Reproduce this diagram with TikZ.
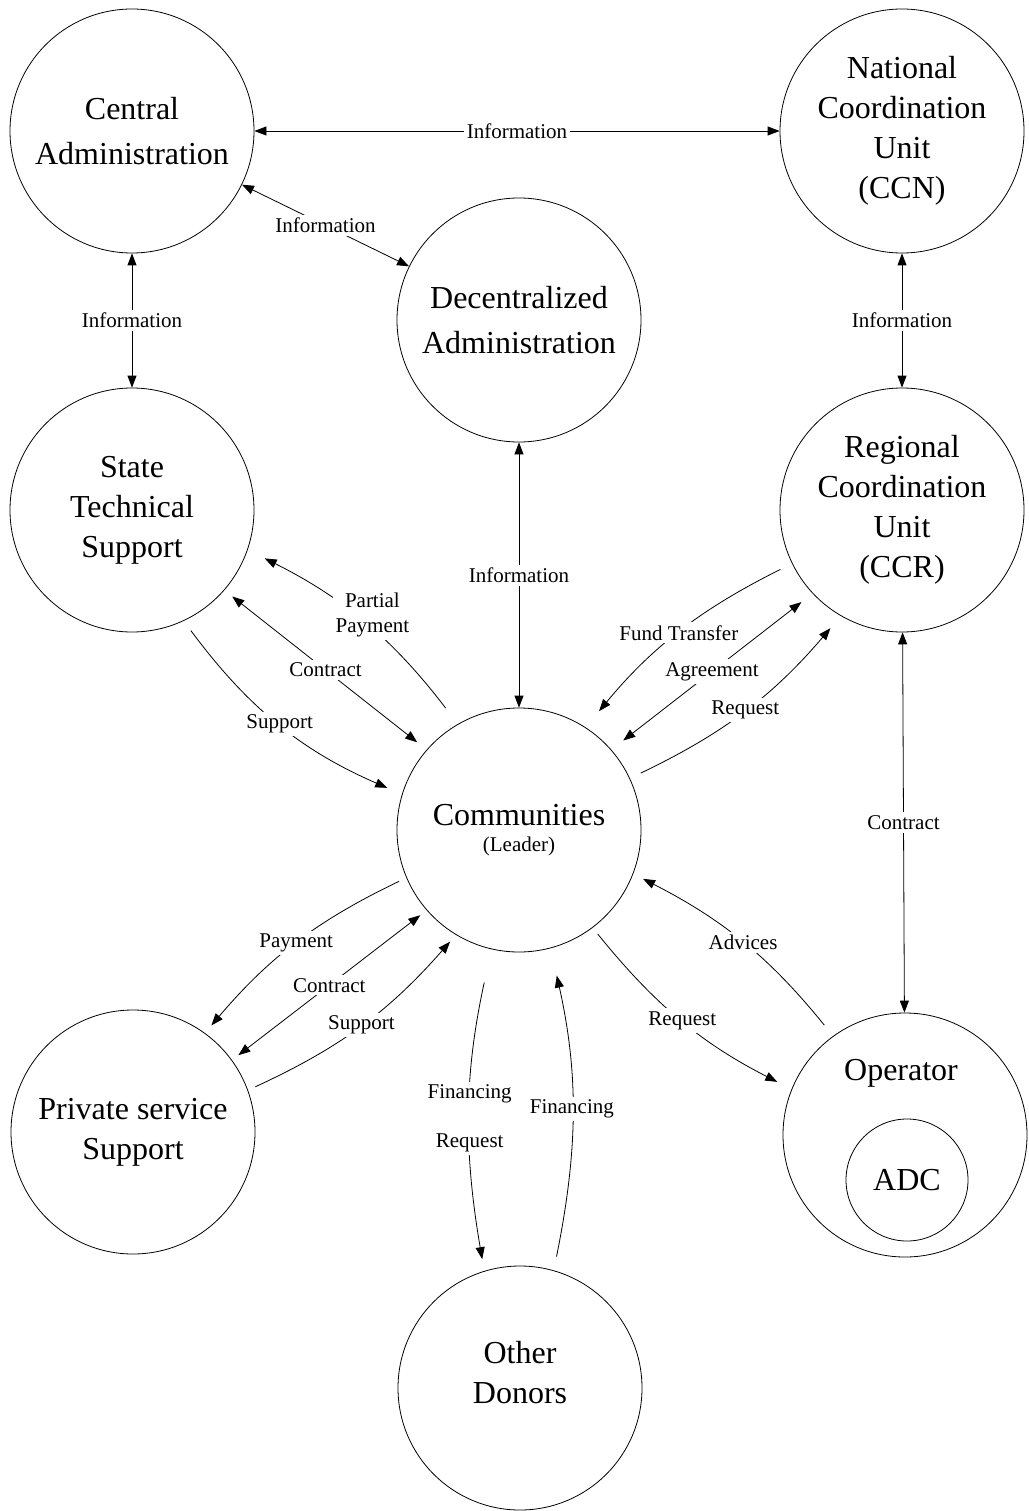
\documentclass[tikz,border=0pt]{standalone}
\usepackage{fontspec}
\setmainfont{Liberation Serif}
\usepackage{tikz}
\usetikzlibrary{shapes,arrows.meta,positioning,calc}

\tikzset{
  party/.style={circle, draw, line width=0.8pt, minimum size=244pt, inner sep=0pt,
    align=center, font=\fontsize{32}{40}\selectfont},
  tag/.style={fill=white, inner sep=3pt, align=center, font=\fontsize{21}{25}\selectfont},
  link/.style={line width=0.8pt, >={Triangle[length=12pt,width=9pt]}}
}

\begin{document}
\begin{tikzpicture}[x=1pt,y=1pt]
  \useasboundingbox (0,0) rectangle (1028,-1511);
  \node[party] (ca) at (132,-131) {Central\\[5pt]Administration};
  \node[party] (ccn) at (902,-131) {National\\Coordination\\Unit\\(CCN)};
  \node[party] (da) at (519,-320) {Decentralized\\[5pt]Administration};
  \node[party] (sts) at (132,-510) {State\\Technical\\Support};
  \node[party] (ccr) at (902,-510) {Regional\\Coordination\\Unit\\(CCR)};
  \node[party] (com) at (519,-830) {Communities\\[-14pt]{\fontsize{21}{25}\selectfont (Leader)}};
  \node[party] (pss) at (133,-1132) {Private service\\Support};
  \node[party] (op) at (905,-1135) {};
  \node[font=\fontsize{32}{40}\selectfont] (optext) at (901,-1073) {Operator};
  \node[party, minimum size=122pt] (adc) at (907,-1180) {ADC};
  \node[party] (don) at (520,-1388) {Other\\Donors\\[-8pt]~};

  \draw[link,<->] (ca) -- node[tag]{Information} (ccn);
  \draw[link,<->] (ca) -- node[tag]{Information} (da);
  \draw[link,<->] (ca) -- node[tag]{Information} (sts);
  \draw[link,<->] (ccn) -- node[tag]{Information} (ccr);
  \draw[link,<->] (da) -- node[tag]{Information} (com);
  \draw[link,<->] (ccr) -- node[tag]{Contract} (op);

  \draw[link,->,shorten <=20pt,shorten >=19pt] (com.120.6) to[bend right=13] node[tag,pos=0.55,xshift=18pt]{Partial\\Payment} (sts.-19.8);
  \draw[link,<->,shorten <=10pt,shorten >=12pt] (sts.-41) -- node[tag]{Contract} (com.139.5);
  \draw[link,->,shorten <=12pt,shorten >=16pt] (sts.-65.3) to[bend right=15] node[tag]{Support} (com.163);

  \draw[link,->,shorten <=13pt,shorten >=21pt] (ccr.-154.2) to[bend right=12] node[tag]{Fund Transfer} (com.57);
  \draw[link,<->,shorten <=15pt,shorten >=14pt] (com.41.1) -- node[tag]{Agreement} (ccr.223.2);
  \draw[link,->,shorten <=12pt,shorten >=16pt] (com.25.6) to[bend right=12] node[tag]{Request} (ccr.240);

  \draw[link,->,shorten <=14pt,shorten >=11pt] (op.126) to[bend right=12] node[tag]{Advices} (com.-21);
  \draw[link,->,shorten <=8pt,shorten >=16pt] (com.-53.9) to[bend right=12] node[tag]{Request} (op.158.8);

  \draw[link,->,shorten <=34pt,shorten >=12pt] (com.-103.8) to[bend right=11] node[tag,pos=0.53]{Financing\\[24pt]Request} (don.107.4);
  \draw[link,->,shorten <=14pt,shorten >=28pt] (don.74.2) to[bend right=12] node[tag]{Financing} (com.-75.3);

  \draw[link,->,shorten <=8pt,shorten >=10pt] (com.203.6) to[bend right=12] node[tag]{Payment} (pss.54.3);
  \draw[link,<->,shorten <=8pt,shorten >=8pt] (pss.36.3) -- node[tag]{Contract} (com.221.7);
  \draw[link,->,shorten <=8pt,shorten >=9pt] (pss.20.2) to[bend right=12] node[tag]{Support} (com.239.2);
\end{tikzpicture}
\end{document}
